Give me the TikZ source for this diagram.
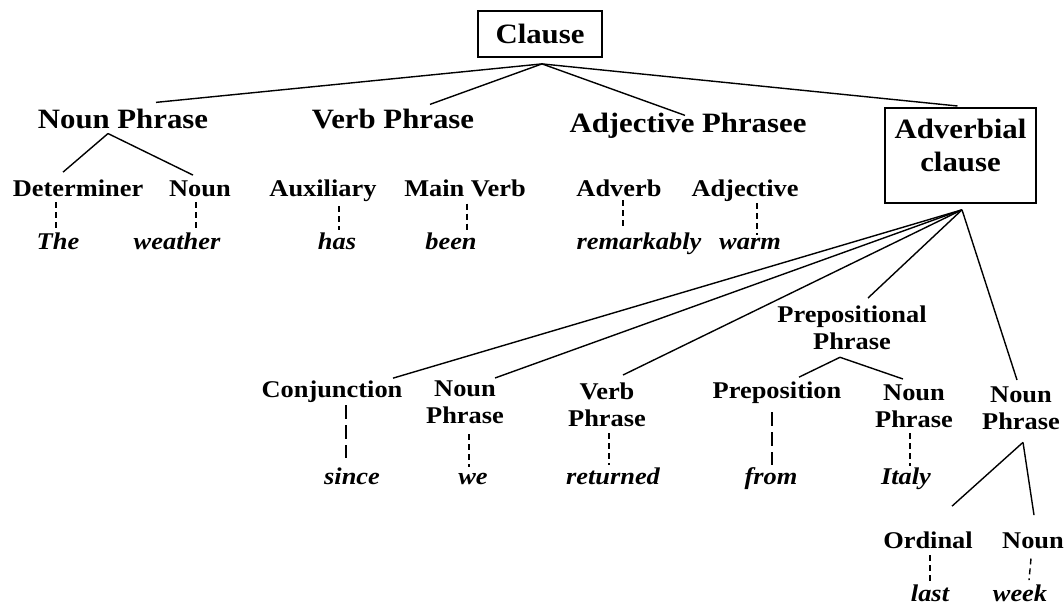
\documentclass[tikz,border=0pt]{standalone}
\usepackage{fontspec}
\setmainfont{Liberation Serif}[FakeStretch=1.1]

\tikzset{
  phrase/.style={font=\fontsize{28}{33}\selectfont\bfseries, inner sep=0pt, anchor=base},
  part/.style={font=\fontsize{24}{27}\selectfont\bfseries, inner sep=0pt, anchor=base, align=center},
  word/.style={font=\fontsize{24}{27}\selectfont\bfseries\itshape, inner sep=0pt, anchor=base},
  framed/.style={draw, line width=1.8pt},
  branch/.style={line width=1.4pt},
  gloss/.style={line width=1.4pt, dash pattern=on 6pt off 4pt},
  longgloss/.style={line width=1.6pt, dash pattern=on 14pt off 6pt},
}

\begin{document}
\begin{tikzpicture}[x=1pt, y=-1pt]
    \useasboundingbox (0,0) rectangle (1064,610);

    % Top
    \node (clause) [phrase, framed, anchor=center, minimum width=124pt, minimum height=46pt] at (540,34) {Clause};

    % Phrases
    \node (np) [phrase] at (123,128) {Noun Phrase};
    \node (vp) [phrase] at (393,128) {Verb Phrase};
    \node (adjp) [phrase] at (688,132) {Adjective Phrasee};
    \node (advcl) [phrase, framed, anchor=north, inner xsep=0pt, inner ysep=11pt] at (960.5,107)
        {\parbox[c][73pt][t]{151pt}{\centering Adverbial\\clause}};

    % Parts of the main clause
    \node (det) [part] at (78,196) {Determiner};
    \node (n1) [part] at (200,196) {Noun};
    \node (aux) [part] at (323,196) {Auxiliary};
    \node (mv) [part] at (465,196) {Main Verb};
    \node (adv) [part] at (619,196) {Adverb};
    \node (adj) [part] at (745,196) {Adjective};

    % Words of the main clause
    \node (w-the) [word] at (58,249) {The};
    \node (w-weather) [word] at (177,249) {weather};
    \node (w-has) [word] at (337,249) {has};
    \node (w-been) [word] at (451,249) {been};
    \node (w-remarkably) [word] at (639,249) {remarkably};
    \node (w-warm) [word] at (750,249) {warm};

    % Parts of the adverbial clause
    \node (conj) [part] at (332,397) {Conjunction};
    \node (np2) [part, anchor=north] at (465,381) {Noun\\Phrase};
    \node (vp2) [part, anchor=north] at (607,383) {Verb\\Phrase};
    \node (pp) [part, anchor=north] at (852,306) {Prepositional\\Phrase};
    \node (prep) [part] at (777,398) {Preposition};
    \node (pnp) [part, anchor=north] at (914,385) {Noun\\Phrase};
    \node (rnp) [part, anchor=north] at (1021,387) {Noun\\Phrase};
    \node (ord) [part] at (928,548) {Ordinal};
    \node (n3) [part] at (1033,548) {Noun};

    % Words of the adverbial clause
    \node (w-since) [word] at (352,484) {since};
    \node (w-we) [word] at (473,484) {we};
    \node (w-returned) [word] at (613,484) {returned};
    \node (w-from) [word] at (771,484) {from};
    \node (w-italy) [word] at (906,484) {Italy};
    \node (w-last) [word] at (930,601) {last};
    \node (w-week) [word] at (1020,601) {week};

    % Branches from the clause
    \draw[branch] ([xshift=2pt,yshift=-6pt]clause.south) -- ([xshift=33pt,yshift=6pt]np.north);
    \draw[branch] ([xshift=2pt,yshift=-6pt]clause.south) -- ([xshift=37pt,yshift=4pt]vp.north);
    \draw[branch] ([xshift=2pt,yshift=-6pt]clause.south) -- ([xshift=-3pt,yshift=-3pt]adjp.north);
    \draw[branch] ([xshift=2pt,yshift=-6pt]clause.south) -- ([xshift=-3pt,yshift=1pt]advcl.north);

    % Noun phrase
    \draw[branch] ([xshift=-15pt,yshift=-5pt]np.south) -- ([xshift=-15pt,yshift=7pt]det.north);
    \draw[branch] ([xshift=-15pt,yshift=-5pt]np.south) -- ([xshift=-7pt,yshift=5pt]n1.north);

    % Branches from the adverbial clause
    \draw[branch] ([xshift=1.5pt,yshift=-6pt]advcl.south) -- ([xshift=61pt,yshift=2pt]conj.north);
    \draw[branch] ([xshift=1.5pt,yshift=-6pt]advcl.south) -- ([xshift=30pt,yshift=3pt]np2.north);
    \draw[branch] ([xshift=1.5pt,yshift=-6pt]advcl.south) -- ([xshift=16pt,yshift=8pt]vp2.north);
    \draw[branch] ([xshift=1.5pt,yshift=-6pt]advcl.south) -- ([xshift=16pt,yshift=8pt]pp.north);
    \draw[branch] ([xshift=1.5pt,yshift=-6pt]advcl.south) -- ([xshift=-4pt,yshift=7pt]rnp.north);

    % Prepositional phrase
    \draw[branch] ([xshift=-12pt,yshift=-7pt]pp.south) -- ([xshift=22pt,yshift=4pt]prep.north);
    \draw[branch] ([xshift=-12pt,yshift=-7pt]pp.south) -- ([xshift=-11pt,yshift=6pt]pnp.north);

    % Noun phrase of the adverbial clause
    \draw[branch] ([xshift=2pt,yshift=-12pt]rnp.south) -- ([xshift=24pt,yshift=25pt]ord.north);
    \draw[branch] ([xshift=2pt,yshift=-12pt]rnp.south) -- ([xshift=1pt,yshift=17pt]n3.north);

    % Parts to words
    \draw[gloss] ([xshift=-22pt,yshift=-6pt]det.south) -- ([xshift=-22pt,yshift=2pt]det.south |- w-the.north);
    \draw[gloss] ([xshift=-4pt,yshift=-6pt]n1.south) -- ([xshift=-4pt,yshift=2pt]n1.south |- w-weather.north);
    \draw[gloss] ([xshift=16pt,yshift=-5pt]aux.south) -- ([xshift=16pt,yshift=2pt]aux.south |- w-has.north);
    \draw[gloss] ([xshift=2pt,yshift=-7pt]mv.south) -- ([xshift=2pt,yshift=2pt]mv.south |- w-been.north);
    \draw[gloss] ([xshift=4pt,yshift=-4pt]adv.south) -- ([xshift=4pt,yshift=2pt]adv.south |- w-remarkably.north);
    \draw[gloss] ([xshift=12pt,yshift=-2pt]adj.south) -- ([xshift=12pt,yshift=2pt]adj.south |- w-warm.north);

    \draw[longgloss] ([xshift=14pt,yshift=-3pt]conj.south) -- ([xshift=14pt,yshift=9pt]conj.south |- w-since.north);
    \draw[gloss] ([xshift=4pt,yshift=-10pt]np2.south) -- ([xshift=4pt,yshift=5pt]np2.south |- w-we.north);
    \draw[gloss] ([xshift=2pt,yshift=-6pt]vp2.south) -- ([xshift=2pt,yshift=2pt]vp2.south |- w-returned.north);
    \draw[longgloss] ([xshift=-5pt,yshift=-9pt]prep.south) -- ([xshift=-5pt,yshift=2pt]prep.south |- w-from.north);
    \draw[gloss] ([xshift=-4pt,yshift=-5pt]pnp.south) -- ([xshift=-4pt,yshift=1pt]pnp.south |- w-italy.north);
    \draw[gloss] ([xshift=2pt,yshift=-7pt]ord.south) -- ([xshift=2pt,yshift=3pt]ord.south |- w-last.north);
    \draw[gloss] ([xshift=-2pt,yshift=-10pt]n3.south) -- ([xshift=-4pt,yshift=4pt]n3.south |- w-week.north);

\end{tikzpicture}
\end{document}
